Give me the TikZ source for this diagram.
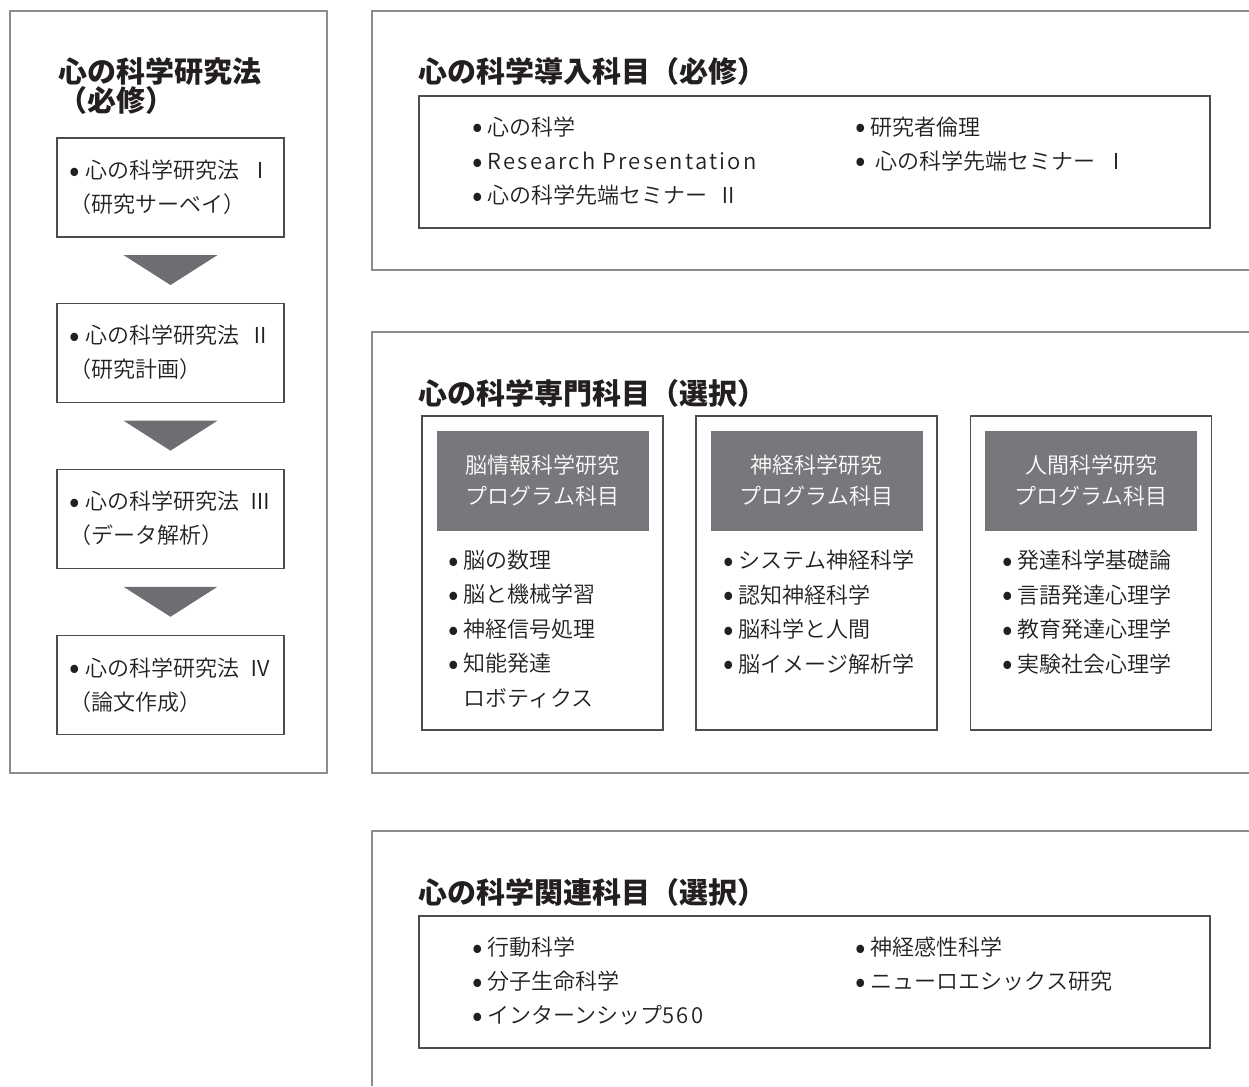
\documentclass[tikz,border=0pt]{standalone}
\usepackage{fontspec}
\IfFontExistsTF{Noto Sans CJK JP Black}
  {\newcommand{\headweight}{Noto Sans CJK JP Black}}
  {\newcommand{\headweight}{Noto Sans CJK JP Bold}}
\IfFontExistsTF{Noto Sans CJK JP DemiLight}
  {\newcommand{\bodyweight}{Noto Sans CJK JP DemiLight}}
  {\IfFontExistsTF{Noto Sans CJK JP Light}
    {\newcommand{\bodyweight}{Noto Sans CJK JP Light}}
    {\newcommand{\bodyweight}{Noto Sans CJK JP}}}
\setmainfont{\bodyweight}[BoldFont={\headweight}]
\newfontfamily\bulletfont{Noto Sans CJK JP}
\usetikzlibrary{positioning, calc}

\definecolor{framegrey}{HTML}{8C8C8C}
\definecolor{boxgrey}{HTML}{4D4D4F}
\definecolor{headgrey}{HTML}{77787B}
\definecolor{arrowgrey}{HTML}{6D6E71}
\definecolor{inkgrey}{HTML}{231F20}

\newcommand{\itembullet}{\raisebox{-2.6pt}{\bulletfont\fontsize{31}{34}\selectfont •}\kern5pt}
\newcommand{\widelatin}[1]{{\addfontfeatures{LetterSpace=10}#1}}

\tikzset{
  frame/.style={draw=framegrey, line width=1.4pt},
  listbox/.style={draw=boxgrey, line width=1.1pt, rectangle, inner sep=0pt},
  heading/.style={font=\fontsize{29}{28}\selectfont\bfseries, anchor=base west,
    align=left, inner sep=0pt, text=inkgrey},
  items/.style={font=\fontsize{22}{34}\selectfont, align=left, anchor=base west,
    inner sep=0pt, text=inkgrey},
  stepbox/.style={listbox, minimum width=227pt, minimum height=99pt,
    align=left, text=inkgrey, font=\fontsize{22}{34}\selectfont},
  progbox/.style={listbox, minimum width=241pt, minimum height=314pt},
  proghead/.style={fill=headgrey, text=white, font=\fontsize{22}{31}\selectfont,
    align=center, minimum width=212pt, minimum height=100pt, inner sep=0pt},
  downarrow/.style={fill=arrowgrey},
}

\begin{document}
\begin{tikzpicture}[x=1pt, y=-1pt]
\useasboundingbox (0,0) rectangle (1249,1086);

% research methods, left column
\draw[frame] (10,11) rectangle (327,773);
\node[heading] (methodhead) at (58,112) {心の科学研究法\\（必修）};
\node[stepbox] (step1) at (170.5,187.5) {\itembullet 心の科学研究法\ \ Ⅰ\\（研究サーベイ）};
\node[stepbox, below=65pt of step1] (step2) {\itembullet 心の科学研究法\ \ Ⅱ\\（研究計画）};
\node[stepbox, below=66pt of step2] (step3) {\itembullet 心の科学研究法\ \ Ⅲ\\（データ解析）};
\node[stepbox, below=66pt of step3] (step4) {\itembullet 心の科学研究法\ \ Ⅳ\\（論文作成）};
\foreach \a/\b in {step1/step2, step2/step3, step3/step4}
  \fill[downarrow] ($(\a.south)!.5!(\b.north)+(-47,-15)$) -- ++(94,0)
    -- ($(\a.south)!.5!(\b.north)+(0,15)$) -- cycle;

% introductory subjects
\draw[frame] (1249,11) -| (372,270) -- (1249,270);
\node[heading] (introhead) at (418,83) {心の科学導入科目（必修）};
\node[listbox, minimum width=791pt, minimum height=132pt] (introbox) at (814.5,162) {};
\node[items] (introleft) at (472,203.4)
  {\itembullet 心の科学\\\itembullet \widelatin{Research Presentation}\\\itembullet 心の科学先端セミナー\ \ Ⅱ};
\node[items] (introright) at (855,169.4)
  {\itembullet 研究者倫理\\\itembullet\ 心の科学先端セミナー\ \ Ⅰ};

% specialised subjects
\draw[frame] (1249,332) -| (372,773) -- (1249,773);
\node[heading] (majorhead) at (418,404) {心の科学専門科目（選択）};

\node[progbox] (brainbox) at (542.5,573) {};
\node[proghead, below=15pt of brainbox.north] (brainhead) {脳情報科学研究\\プログラム科目};
\node[items, font=\fontsize{22}{34.5}\selectfont] (brainlist) at (448,706.4)
  {\itembullet 脳の数理\\\itembullet 脳と機械学習\\\itembullet 神経信号処理\\
   \itembullet 知能発達\\\hphantom{\itembullet}ロボティクス};

\node[progbox] (neurobox) at (816.5,573) {};
\node[proghead, below=15pt of neurobox.north] (neurohead) {神経科学研究\\プログラム科目};
\node[items, font=\fontsize{22}{34.5}\selectfont] (neurolist) at (723,672)
  {\itembullet システム神経科学\\\itembullet 認知神経科学\\\itembullet 脳科学と人間\\
   \itembullet 脳イメージ解析学};

\node[progbox] (humanbox) at (1091,573) {};
\node[proghead, below=15pt of humanbox.north] (humanhead) {人間科学研究\\プログラム科目};
\node[items, font=\fontsize{22}{34.5}\selectfont] (humanlist) at (1002,672)
  {\itembullet 発達科学基礎論\\\itembullet 言語発達心理学\\\itembullet 教育発達心理学\\
   \itembullet 実験社会心理学};

% related subjects
\draw[frame] (1249,831) -| (372,1086);
\node[heading] (relhead) at (418,903) {心の科学関連科目（選択）};
\node[listbox, minimum width=791pt, minimum height=132pt] (relbox) at (814.5,982) {};
\node[items] (relleft) at (472,1023.4)
  {\itembullet 行動科学\\\itembullet 分子生命科学\\\itembullet インターンシップ\widelatin{560}};
\node[items] (relright) at (855,989.4)
  {\itembullet 神経感性科学\\\itembullet ニューロエシックス研究};
\end{tikzpicture}
\end{document}
